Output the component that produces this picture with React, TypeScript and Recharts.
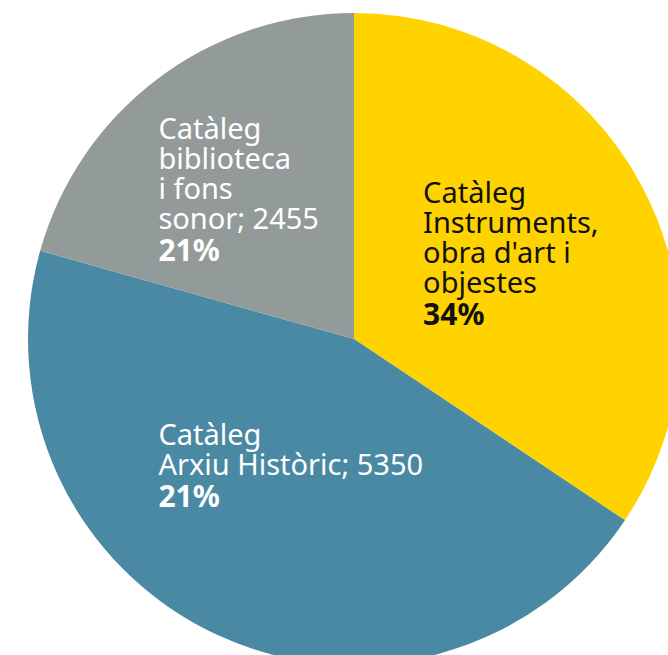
import { PieChart, Pie, Cell } from 'recharts';

// slices clockwise from 12 o'clock
const categories = [
  "Catàleg Instruments, obra d'art i objestes",
  'Catàleg Arxiu Històric',
  'Catàleg biblioteca i fons sonor',
];
const values = [4090, 5350, 2455];
const percentLabels = ['34%', '21%', '21%'];
const labelText = [
  ['Catàleg', 'Instruments,', "obra d'art i", 'objestes'],
  ['Catàleg', 'Arxiu Històric; 5350'],
  ['Catàleg', 'biblioteca', 'i fons', 'sonor; 2455'],
];

const COLORS = ['#FFD300', '#4A89A3', '#929B99'];
const TEXT_COLORS = ['#111111', '#ffffff', '#ffffff'];
// label block position, as fraction of radius from the centre
const LABEL_POS = [
  { fx: 0.212, fy: -0.417 },
  { fx: -0.6, fy: 0.325 },
  { fx: -0.6, fy: -0.613 },
];

const data = categories.map((name, i) => ({ name, value: values[i] }));

const FONT = '"Noto Sans", sans-serif';
const LINE_H = 30;

function renderLabel(props: any) {
  const { cx, cy, outerRadius, index } = props;
  const pos = LABEL_POS[index];
  const x = cx + pos.fx * outerRadius;
  const y = cy + pos.fy * outerRadius;
  const lines = labelText[index];
  return (
    <g>
      {lines.map((l, i) => (
        <text
          key={i}
          x={x}
          y={y + i * LINE_H}
          fill={TEXT_COLORS[index]}
          fontFamily={FONT}
          fontSize={29}
          textAnchor="start"
        >
          {l}
        </text>
      ))}
      <text
        x={x}
        y={y + lines.length * LINE_H + 2}
        fill={TEXT_COLORS[index]}
        fontFamily={FONT}
        fontSize={30}
        fontWeight={700}
        textAnchor="start"
      >
        {percentLabels[index]}
      </text>
    </g>
  );
}

export default function App() {
  return (
    <div style={{ position: 'absolute', left: 0, top: 0, width: 668, height: 655, background: '#fff' }}>
      <PieChart width={668} height={655} margin={{ top: 0, right: 0, bottom: 0, left: 0 }}>
        <Pie
          data={data}
          dataKey="value"
          nameKey="name"
          cx={354}
          cy={339}
          outerRadius={326}
          startAngle={90}
          endAngle={-270}
          stroke="none"
          label={renderLabel}
          labelLine={false}
          isAnimationActive={false}
        >
          {data.map((d, i) => (
            <Cell key={d.name} fill={COLORS[i]} />
          ))}
        </Pie>
      </PieChart>
    </div>
  );
}
